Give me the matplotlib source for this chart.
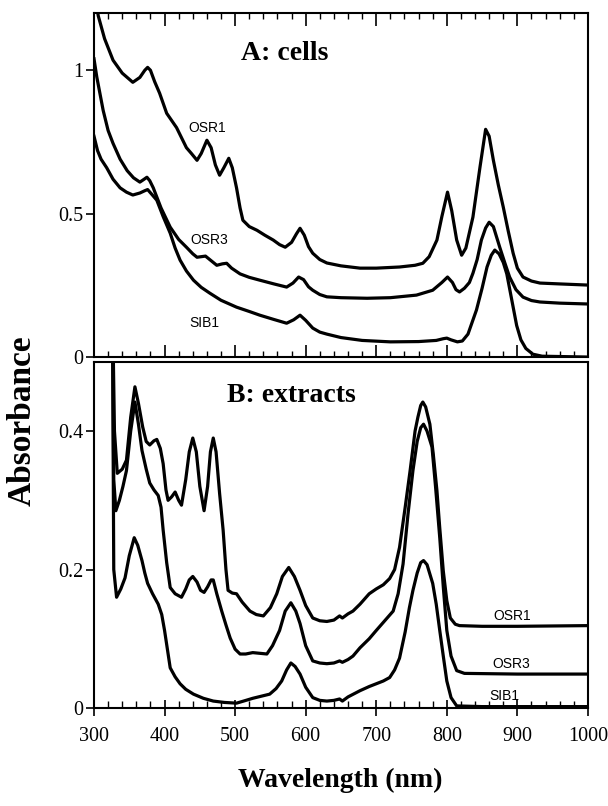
import numpy as np
import matplotlib
matplotlib.use("Agg")
from matplotlib import pyplot as plt
from matplotlib.ticker import MultipleLocator, FuncFormatter

# A: cells
a_osr1_wl = [302, 306, 315, 327, 340, 355, 365, 372, 376, 380, 386, 393, 403, 417, 425, 431, 438, 446,
             452, 460, 466, 472, 478, 484, 491, 496, 502, 507, 511, 520, 531, 542, 554, 563, 571, 580,
             587, 592, 598, 604, 610, 620, 630, 650, 677, 700, 733, 755, 766, 775, 786, 793, 801, 807,
             814, 821, 827, 837, 847, 855, 860, 866, 873, 880, 887, 894, 900, 908, 920, 932, 960, 1000]
a_osr1 = [1.25, 1.19, 1.11, 1.035, 0.99, 0.958, 0.975, 1.0, 1.01, 1.0, 0.96, 0.92, 0.85, 0.80, 0.76, 0.73, 0.71, 0.686,
          0.71, 0.756, 0.73, 0.67, 0.634, 0.66, 0.693, 0.66, 0.59, 0.52, 0.477, 0.455, 0.442, 0.425, 0.408, 0.392, 0.383, 0.40,
          0.43, 0.449, 0.425, 0.385, 0.362, 0.34, 0.328, 0.318, 0.31, 0.31, 0.314, 0.32, 0.327, 0.35, 0.408, 0.49, 0.575, 0.51,
          0.408, 0.355, 0.38, 0.488, 0.662, 0.794, 0.77, 0.686, 0.6, 0.523, 0.44, 0.362, 0.31, 0.279, 0.265, 0.258, 0.255, 0.251]

a_osr3_wl = [300, 304, 313, 320, 327, 337, 347, 356, 365, 371, 375, 379, 384, 395, 408, 420, 431, 440, 446,
             452, 458, 464, 474, 482, 488, 495, 507, 520, 535, 555, 573, 582, 590, 597, 604, 610, 620, 630,
             650, 687, 720, 757, 780, 793, 801, 808, 813, 818, 825, 832, 837, 843, 849, 855, 860, 866, 875,
             882, 889, 898, 908, 920, 932, 960, 1000]
a_osr3 = [1.04, 0.976, 0.86, 0.79, 0.745, 0.69, 0.65, 0.625, 0.61, 0.62, 0.627, 0.615, 0.59, 0.52, 0.453, 0.41, 0.383, 0.36, 0.348,
          0.35, 0.352, 0.34, 0.32, 0.325, 0.327, 0.31, 0.29, 0.278, 0.268, 0.255, 0.244, 0.258, 0.279, 0.27, 0.245, 0.233, 0.218, 0.21,
          0.207, 0.205, 0.207, 0.216, 0.233, 0.26, 0.279, 0.26, 0.235, 0.227, 0.24, 0.26, 0.292, 0.34, 0.408, 0.45, 0.47, 0.455, 0.383,
          0.33, 0.279, 0.235, 0.209, 0.197, 0.192, 0.188, 0.185]

a_sib1_wl = [300, 305, 310, 318, 327, 337, 346, 355, 365, 372, 376, 381, 389, 398, 408, 415, 422, 431, 441,
             452, 464, 480, 502, 520, 535, 555, 573, 583, 592, 600, 610, 620, 630, 650, 680, 720, 760, 785,
             795, 800, 806, 815, 822, 830, 842, 850, 857, 863, 868, 874, 880, 885, 892, 899, 905, 912, 922,
             935, 1000]
a_sib1 = [0.77, 0.72, 0.69, 0.66, 0.62, 0.59, 0.575, 0.565, 0.572, 0.58, 0.584, 0.57, 0.547, 0.49, 0.432, 0.38, 0.338, 0.30, 0.268,
          0.243, 0.223, 0.198, 0.174, 0.159, 0.146, 0.131, 0.118, 0.13, 0.146, 0.128, 0.101, 0.087, 0.08, 0.068, 0.058, 0.053, 0.054, 0.058,
          0.064, 0.066, 0.06, 0.053, 0.056, 0.08, 0.164, 0.24, 0.314, 0.355, 0.373, 0.36, 0.33, 0.29, 0.2, 0.11, 0.06, 0.03, 0.01,
          0.003, 0.0]

# B: extracts
b_osr1_wl = [326, 329, 333, 340, 346, 352, 358, 363, 369, 374, 379, 385, 389, 394, 398, 402, 405, 410, 415,
             420, 424, 430, 435, 440, 445, 450, 456, 461, 465, 469, 473, 478, 483, 487, 490, 496, 502, 510,
             521, 530, 540, 550, 559, 567, 576, 584, 592, 600, 610, 620, 630, 640, 648, 652, 660, 667, 677,
             690, 700, 710, 719, 726, 733, 741, 748, 755, 759, 763, 766, 770, 776, 781, 786, 790, 795, 800,
             805, 812, 818, 850, 900, 1000]
b_osr1 = [0.6, 0.40, 0.339, 0.345, 0.358, 0.42, 0.464, 0.44, 0.406, 0.385, 0.38, 0.386, 0.388, 0.375, 0.353, 0.315, 0.30, 0.305, 0.312,
          0.30, 0.293, 0.33, 0.37, 0.39, 0.37, 0.32, 0.285, 0.32, 0.37, 0.39, 0.37, 0.31, 0.257, 0.2, 0.17, 0.166, 0.165, 0.153,
          0.14, 0.135, 0.133, 0.145, 0.165, 0.19, 0.203, 0.19, 0.17, 0.148, 0.13, 0.126, 0.125, 0.127, 0.133, 0.13, 0.136, 0.14, 0.15,
          0.165, 0.172, 0.178, 0.187, 0.2, 0.232, 0.29, 0.343, 0.4, 0.42, 0.437, 0.442, 0.435, 0.41, 0.365, 0.314, 0.26, 0.198, 0.155,
          0.13, 0.121, 0.119, 0.118, 0.118, 0.119]

b_osr3_wl = [326, 328, 331, 336, 341, 346, 352, 358, 363, 368, 374, 379, 385, 391, 395, 398, 403, 408, 415,
             424, 430, 435, 440, 446, 451, 456, 461, 466, 469, 474, 481, 487, 493, 500, 507, 515, 525, 535,
             545, 553, 563, 571, 579, 586, 592, 600, 610, 620, 630, 640, 648, 652, 660, 667, 677, 690, 700,
             712, 724, 731, 738, 745, 752, 758, 763, 767, 772, 779, 784, 790, 795, 800, 806, 814, 825, 900, 1000]
b_osr3 = [0.6, 0.33, 0.285, 0.3, 0.32, 0.343, 0.4, 0.442, 0.41, 0.372, 0.345, 0.325, 0.315, 0.307, 0.29, 0.257, 0.21, 0.174, 0.165,
          0.16, 0.172, 0.185, 0.19, 0.182, 0.17, 0.167, 0.175, 0.185, 0.185, 0.165, 0.14, 0.12, 0.101, 0.085, 0.078, 0.078, 0.08, 0.079,
          0.078, 0.09, 0.112, 0.14, 0.152, 0.14, 0.122, 0.09, 0.068, 0.065, 0.064, 0.065, 0.068, 0.066, 0.07, 0.075, 0.087, 0.1, 0.112,
          0.126, 0.14, 0.165, 0.208, 0.28, 0.343, 0.385, 0.405, 0.41, 0.4, 0.377, 0.32, 0.246, 0.175, 0.112, 0.075, 0.054, 0.05, 0.049, 0.049]

b_sib1_wl = [326, 328, 332, 338, 344, 350, 357, 362, 368, 372, 376, 383, 391, 396, 400, 404, 408, 415, 422,
             430, 441, 455, 469, 485, 502, 512, 525, 537, 549, 558, 566, 573, 579, 585, 592, 600, 610, 620,
             630, 640, 648, 652, 660, 677, 690, 700, 710, 719, 726, 733, 741, 747, 752, 758, 763, 767, 772,
             780, 785, 790, 795, 800, 806, 814, 850, 1000]
b_sib1 = [0.6, 0.2, 0.16, 0.172, 0.188, 0.22, 0.246, 0.235, 0.213, 0.195, 0.18, 0.165, 0.15, 0.135, 0.112, 0.085, 0.058, 0.045, 0.035,
          0.027, 0.02, 0.014, 0.01, 0.008, 0.007, 0.01, 0.014, 0.017, 0.02, 0.028, 0.039, 0.055, 0.065, 0.06, 0.049, 0.03, 0.015, 0.011,
          0.01, 0.011, 0.013, 0.01, 0.016, 0.025, 0.031, 0.035, 0.039, 0.044, 0.055, 0.072, 0.11, 0.145, 0.17, 0.195, 0.21, 0.213, 0.207,
          0.18, 0.15, 0.112, 0.075, 0.039, 0.015, 0.003, 0.002, 0.002]

serif = "Liberation Serif"
sans = "Liberation Sans"
lw = 2.3

fig = plt.figure(figsize=(6.08, 8.06), dpi=100)
ax1 = fig.add_axes([0.1546, 0.557, 0.8124, 0.427])
ax2 = fig.add_axes([0.1546, 0.1216, 0.8124, 0.4294])

ax1.plot(a_osr1_wl, a_osr1, color="black", lw=lw)
ax1.plot(a_osr3_wl, a_osr3, color="black", lw=lw)
ax1.plot(a_sib1_wl, a_sib1, color="black", lw=lw)
ax1.set_xlim(300, 1000)
ax1.set_ylim(0, 1.2)
ax1.set_yticks([0, 0.5, 1])
ax1.text(570, 1.06, "A: cells", family=serif, fontweight="bold", fontsize=20, ha="center", va="center")
ax1.text(460, 0.80, "OSR1", family=sans, fontsize=10, ha="center", va="center")
ax1.text(464, 0.408, "OSR3", family=sans, fontsize=10, ha="center", va="center")
ax1.text(457, 0.118, "SIB1", family=sans, fontsize=10, ha="center", va="center")

ax2.plot(b_osr1_wl, b_osr1, color="black", lw=lw)
ax2.plot(b_osr3_wl, b_osr3, color="black", lw=lw)
ax2.plot(b_sib1_wl, b_sib1, color="black", lw=lw)
ax2.set_xlim(300, 1000)
ax2.set_ylim(0, 0.5)
ax2.set_yticks([0, 0.2, 0.4])
ax2.text(580, 0.452, "B: extracts", family=serif, fontweight="bold", fontsize=20, ha="center", va="center")
ax2.text(892, 0.133, "OSR1", family=sans, fontsize=10, ha="center", va="center")
ax2.text(892, 0.064, "OSR3", family=sans, fontsize=10, ha="center", va="center")
ax2.text(882, 0.017, "SIB1", family=sans, fontsize=10, ha="center", va="center")

fmt = FuncFormatter(lambda v, p: ("%g" % v))
for ax in (ax1, ax2):
    ax.xaxis.set_major_locator(MultipleLocator(100))
    ax.xaxis.set_minor_locator(MultipleLocator(20))
    ax.yaxis.set_major_formatter(fmt)
    ax.tick_params(axis="y", which="major", direction="out", length=6, width=1.2, labelsize=14.5, pad=1.5)
    for lab in ax.get_yticklabels():
        lab.set_family(serif)
    for s in ax.spines.values():
        s.set_linewidth(1.5)

ax1.tick_params(axis="x", which="major", direction="in", length=9, width=1.2, top=True, labelbottom=False)
ax1.tick_params(axis="x", which="minor", direction="in", length=4, width=1.0, top=True)
ax2.tick_params(axis="x", which="major", direction="inout", length=12, width=1.2, labelsize=14.5, pad=8)
ax2.tick_params(axis="x", which="minor", direction="in", length=5, width=1.0)
for lab in ax2.get_xticklabels():
    lab.set_family(serif)

fig.text(0.036, 0.478, "Absorbance", family=serif, fontweight="bold", fontsize=24,
         rotation=90, ha="center", va="center")
fig.text(0.56, 0.032, "Wavelength (nm)", family=serif, fontweight="bold", fontsize=20,
         ha="center", va="center")

fig.savefig("out.png", dpi=100)
